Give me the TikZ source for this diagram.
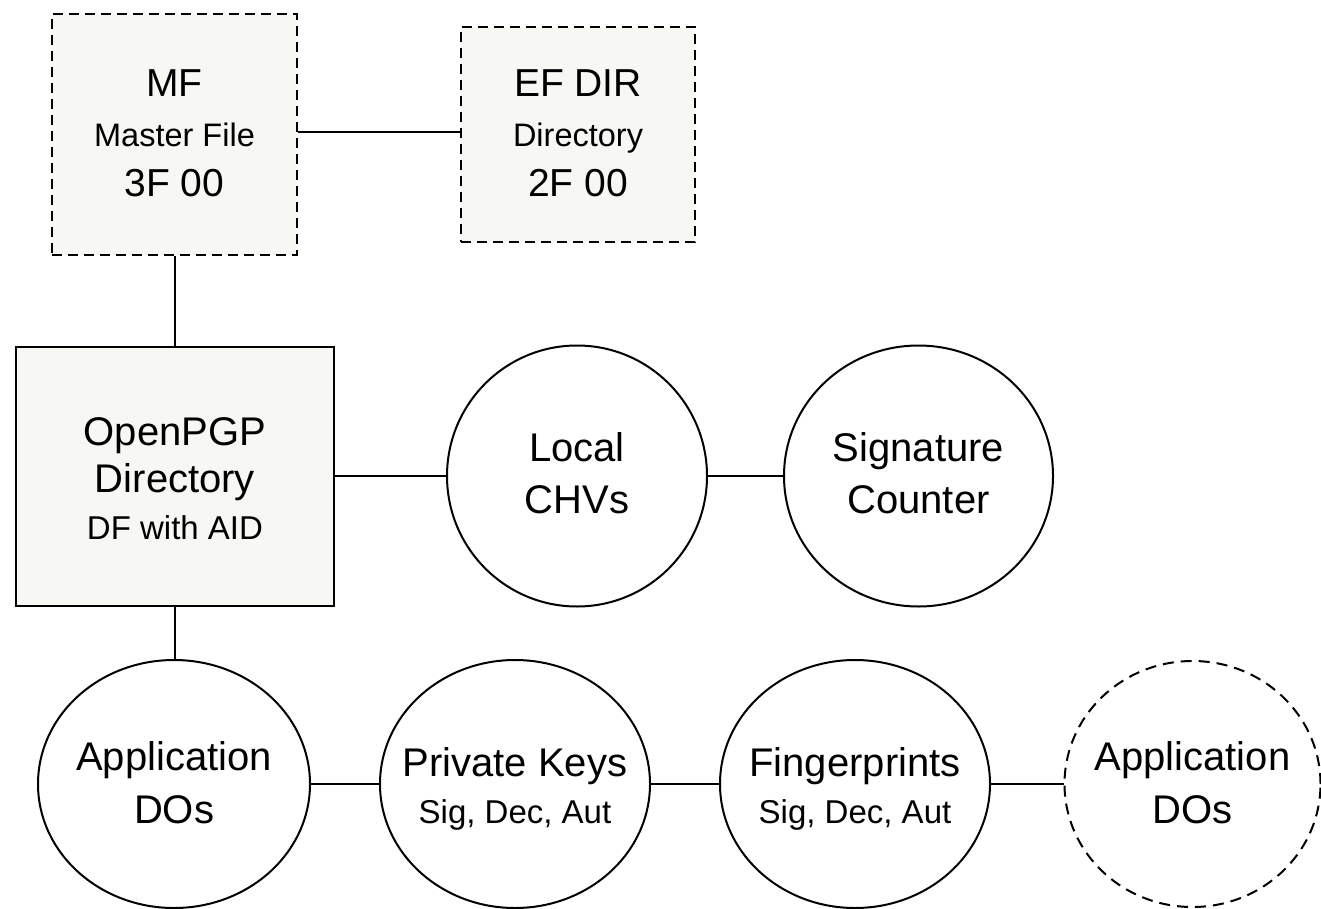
\documentclass[tikz,border=0pt]{standalone}
\usepackage{fontspec}
\setmainfont{Liberation Sans}
\usetikzlibrary{shapes.geometric}
\definecolor{boxfill}{RGB}{247,247,244}
\begin{document}
\begin{tikzpicture}[x=1pt,y=-1pt,
  conn/.style={draw=black,line width=2pt},
  filebox/.style={rectangle,draw=black,line width=2pt,fill=boxfill,inner sep=0pt},
  dashbox/.style={filebox,dash pattern=on 10pt off 6pt},
  doellipse/.style={ellipse,draw=black,line width=2pt,inner sep=0pt},
  dashellipse/.style={doellipse,dash pattern=on 11pt off 7pt},
  txtA/.style={align=center,inner sep=0pt,font=\fontsize{39}{50}\selectfont},
  txtB/.style={align=center,inner sep=0pt,font=\fontsize{40}{47}\selectfont},
  txtC/.style={align=center,inner sep=0pt,font=\fontsize{40}{52.5}\selectfont}
]
\useasboundingbox (0,0) rectangle (1321,909);
\fill[white] (0,0) rectangle (1321,909);

% shapes
\node[dashbox,minimum width=245pt,minimum height=241pt] (mf) at (174.5,134.5) {};
\node[dashbox,minimum width=234pt,minimum height=215pt] (ef) at (578,134.5) {};
\node[filebox,minimum width=318pt,minimum height=259pt] (pgp) at (175,476) {};
\node[doellipse,minimum width=260pt,minimum height=261pt] (chv) at (577,476) {};
\node[doellipse,minimum width=269pt,minimum height=261pt] (sig) at (918.5,476) {};
\node[doellipse,minimum width=272pt,minimum height=248pt] (app) at (174,784) {};
\node[doellipse,minimum width=270pt,minimum height=248pt] (pk) at (515,784) {};
\node[doellipse,minimum width=270pt,minimum height=248pt] (fp) at (855,784) {};
\node[dashellipse,minimum width=256pt,minimum height=246pt] (app2) at (1192.5,784) {};

% texts
\node[txtA,yshift=1.5pt] (mft) at (mf.center) {MF\\{\fontsize{32.5}{50}\selectfont Master File}\\3F 00};
\node[txtA,yshift=1.5pt] (eft) at (ef.center) {EF DIR\\{\fontsize{32.5}{50}\selectfont Directory}\\2F 00};
\node[txtB,yshift=-2.5pt] (pgpt) at (pgp.center) {OpenPGP\\Directory\\{\fontsize{33}{47}\selectfont DF with AID}};
\node[txtC,yshift=3pt] (chvt) at (chv.center) {Local\\CHVs};
\node[txtC,yshift=3pt] (sigt) at (sig.center) {Signature\\Counter};
\node[txtC,yshift=1.5pt] (appt) at (app.center) {Application\\DOs};
\node[txtB,yshift=-5pt] (pkt) at (pk.center) {Private Keys\\{\fontsize{33}{47}\selectfont Sig, Dec, Aut}};
\node[txtB,yshift=-5pt] (fpt) at (fp.center) {Fingerprints\\{\fontsize{33}{47}\selectfont Sig, Dec, Aut}};
\node[txtC,yshift=1.5pt] (app2t) at (app2.center) {Application\\DOs};

% connectors
\draw[conn] (mf.east |- 0,132) -- (ef.west |- 0,132);
\draw[conn] (mf.south) -- (mf.south |- pgp.north);
\draw[conn] (pgp.east) -- (chv.west);
\draw[conn] (chv.east) -- (sig.west);
\draw[conn] (pgp.south) -- (pgp.south |- app.north);
\draw[conn] (app.east) -- (pk.west);
\draw[conn] (pk.east) -- (fp.west);
\draw[conn] (fp.east) -- (app2.west);
\end{tikzpicture}
\end{document}
